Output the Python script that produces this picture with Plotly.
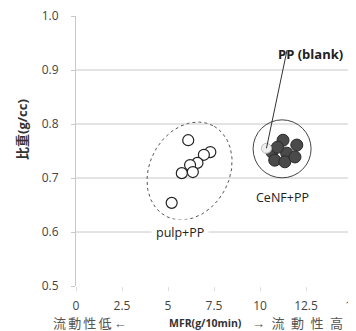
import numpy as np
import plotly.graph_objects as go

# ---- data ----
pulp_mfr = [6.1, 7.3, 6.95, 6.6, 6.2, 6.35, 5.75, 5.2]
pulp_sg = [0.770, 0.748, 0.743, 0.728, 0.724, 0.711, 0.709, 0.654]
cenf_mfr = [11.25, 12.0, 10.65, 11.45, 10.8, 11.35, 11.9, 10.95]
cenf_sg = [0.770, 0.761, 0.748, 0.746, 0.733, 0.730, 0.739, 0.757]
blank_mfr = [10.35]
blank_sg = [0.755]
x_ticks = [0, 2.5, 5, 7.5, 10, 12.5, 15]
x_tick_labels = ["0", "2.5", "5", "7.5", "10", "12.5", "15"]
y_ticks = [0.5, 0.6, 0.7, 0.8, 0.9, 1.0]
y_tick_labels = ["0.5", "0.6", "0.7", "0.8", "0.9", "1.0"]
grid_levels = [0.6, 0.7, 0.8, 0.9]

# page offset (browser body margin)
OFF = 8
W, H = 356 - OFF, 331 - OFF
ML, MR, MT, MB = 76 - OFF, 4, 16 - OFF, 45
XR = [0, 15]
YR = [0.5, 1.0]
PW, PH = W - ML - MR, H - MT - MB
pxx = PW / (XR[1] - XR[0])
pxy = PH / (YR[1] - YR[0])
LEFT_REF, BOT_REF = 76, 286


def px_x(px):
    return (px - LEFT_REF) / PW


def px_y(py):
    return (BOT_REF - py) / PH


FONT = "Open Sans, Liberation Sans, Noto Sans CJK JP, sans-serif"

fig = go.Figure()

for g in grid_levels:
    fig.add_shape(type="line", xref="paper", yref="y", x0=0, x1=1, y0=g, y1=g,
                  line=dict(color="#c8c8c8", width=1), layer="below")

# dotted ellipse around pulp+PP
ecx, ecy = 6.17, 0.713
a, b, th = 51, 40, np.deg2rad(62.8)
t = np.linspace(0, 2 * np.pi, 200)
dx = a * np.cos(t) * np.cos(th) - b * np.sin(t) * np.sin(th)
dy = a * np.cos(t) * np.sin(th) + b * np.sin(t) * np.cos(th)
fig.add_trace(go.Scatter(x=ecx + dx / pxx, y=ecy + dy / pxy, mode="lines",
                         line=dict(color="#555555", width=1, dash="dot"),
                         hoverinfo="skip", showlegend=False))

# circle around CeNF+PP
ccx, ccy, cr = 11.2, 0.754, 29
fig.add_shape(type="circle", xref="x", yref="y",
              x0=ccx - cr / pxx, x1=ccx + cr / pxx,
              y0=ccy - cr / pxy, y1=ccy + cr / pxy,
              line=dict(color="#444444", width=1))

# PP blank leader line
fig.add_shape(type="line", xref="x", yref="y",
              x0=blank_mfr[0], y0=blank_sg[0], x1=11.47, y1=0.937,
              line=dict(color="#333333", width=1))

fig.add_trace(go.Scatter(x=pulp_mfr, y=pulp_sg, mode="markers",
                         marker=dict(size=11, color="white",
                                     line=dict(color="#222222", width=1.2)),
                         showlegend=False))
fig.add_trace(go.Scatter(x=cenf_mfr, y=cenf_sg, mode="markers",
                         marker=dict(size=12, color="#4a4a4a",
                                     line=dict(color="#2a2a2a", width=1)),
                         showlegend=False))
fig.add_trace(go.Scatter(x=blank_mfr, y=blank_sg, mode="markers",
                         marker=dict(size=10, color="#f0f0f0",
                                     line=dict(color="#bbbbbb", width=1)),
                         showlegend=False))

fig.add_annotation(x=12.72, y=0.93, text="<b>PP (blank)</b>", showarrow=False,
                   xanchor="center", yanchor="middle",
                   font=dict(size=13, color="#222222", family=FONT))
fig.add_annotation(x=11.2, y=0.663, text="CeNF+PP", showarrow=False,
                   xanchor="center", yanchor="middle",
                   font=dict(size=12.5, color="#222222", family=FONT))
fig.add_annotation(x=5.65, y=0.599, text="pulp+PP", showarrow=False,
                   xanchor="center", yanchor="middle",
                   bgcolor="white", borderpad=4,
                   font=dict(size=12.5, color="#222222", family=FONT))

fig.add_annotation(xref="paper", yref="paper", x=px_x(22), y=px_y(130),
                   text="<b>比重(g/cc)</b>", textangle=-90, showarrow=False,
                   xanchor="center", yanchor="middle",
                   font=dict(size=13, color="#333333", family=FONT))
ybot = px_y(323)
fig.add_annotation(xref="paper", yref="paper", x=px_x(90), y=ybot,
                   text="\u2009".join("流動性低←"), showarrow=False,
                   xanchor="center", yanchor="middle",
                   font=dict(size=13, color="#555555", family=FONT))
fig.add_annotation(xref="paper", yref="paper", x=px_x(205), y=ybot,
                   text="<b>MFR(g/10min)</b>", showarrow=False, xanchor="center",
                   yanchor="middle",
                   font=dict(size=10.5, color="#333333", family=FONT))
fig.add_annotation(xref="paper", yref="paper", x=px_x(297), y=ybot,
                   text="\u2002".join("→流動性高"), showarrow=False,
                   xanchor="center", yanchor="middle",
                   font=dict(size=13, color="#555555", family=FONT))

fig.update_layout(
    width=W, height=H,
    margin=dict(l=ML, r=MR, t=MT, b=MB),
    paper_bgcolor="white", plot_bgcolor="white",
    showlegend=False,
    xaxis=dict(range=XR, tickvals=x_ticks, ticktext=x_tick_labels,
               showgrid=False, zeroline=False, showline=False, automargin=False,
               ticks="outside", ticklen=4, tickcolor="#dddddd",
               ticklabelstandoff=5, ticklabeloverflow="allow",
               tickfont=dict(size=12, color="#444444", family=FONT)),
    yaxis=dict(range=YR, tickvals=y_ticks, ticktext=y_tick_labels,
               showgrid=False, zeroline=False, showline=True, linecolor="#c8c8c8",
               automargin=False,
               ticks="outside", ticklen=4, tickcolor="#c8c8c8",
               ticklabelstandoff=10, ticklabeloverflow="allow",
               tickfont=dict(size=12, color="#444444", family=FONT)),
)

fig.write_html("out.html")
